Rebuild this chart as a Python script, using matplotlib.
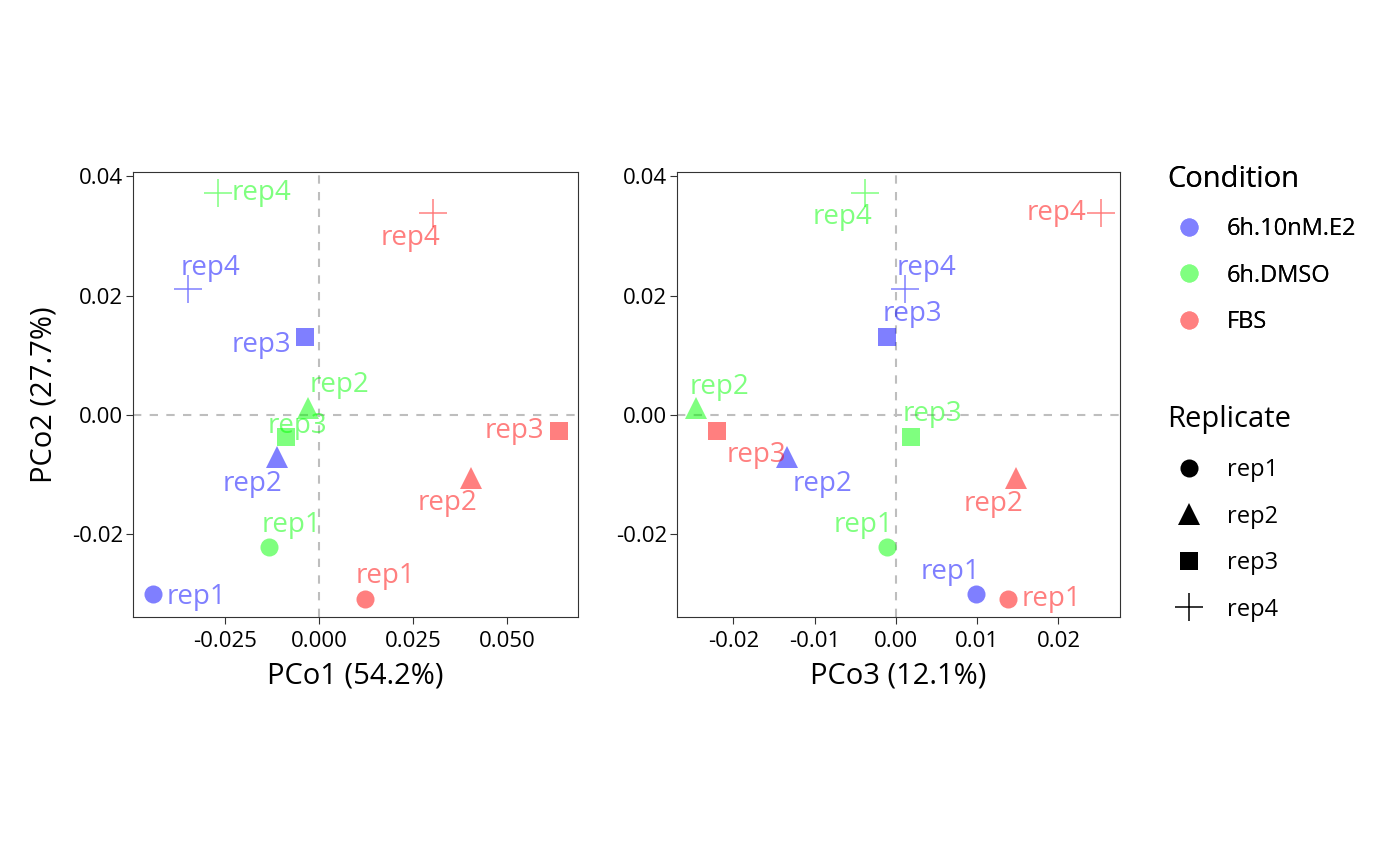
import numpy as np
import matplotlib.pyplot as plt
from matplotlib.lines import Line2D

plt.rcParams['font.family'] = ['Open Sans', 'DejaVu Sans']

# Datos de las coordenadas principales
conditions = ['6h.10nM.E2', '6h.DMSO', 'FBS']
replicates = ['rep1', 'rep2', 'rep3', 'rep4']
cond_colors = {'6h.10nM.E2': '#0000FF', '6h.DMSO': '#00FF00', 'FBS': '#FF0000'}
legend_colors = {'6h.10nM.E2': '#8080FF', '6h.DMSO': '#80FF80', 'FBS': '#FF8080'}

sample_cond = ['6h.10nM.E2'] * 4 + ['6h.DMSO'] * 4 + ['FBS'] * 4
sample_rep = replicates * 3

pco1 = [-0.0442, -0.0112, -0.0037, -0.0348,
        -0.0133, -0.0029, -0.0088, -0.0269,
        0.0122, 0.0404, 0.0638, 0.0303]
pco2 = [-0.0300, -0.0070, 0.0131, 0.0211,
        -0.0221, 0.0012, -0.0037, 0.0372,
        -0.0308, -0.0106, -0.0027, 0.0339]
pco3 = [0.0098, -0.0134, -0.0011, 0.0011,
        -0.0011, -0.0246, 0.0018, -0.0038,
        0.0138, 0.0148, -0.0220, 0.0252]

# desplazamientos de etiquetas (pixeles), como ggrepel
off_left = [(44, -3), (-24, -27), (-44, -8), (22, 21),
            (22, 22), (31, 23), (12, 11), (44, 0),
            (21, 23), (-23, -25), (-44, 0), (-22, -25)]
off_right = [(-25, 22), (35, -27), (25, 23), (22, 21),
             (-24, 22), (23, 21), (22, 23), (-23, -24),
             (43, 0), (-23, -26), (39, -24), (-44, 0)]

markers = {'rep1': 'o', 'rep2': '^', 'rep3': 's', 'rep4': '+'}
msize = {'rep1': 13, 'rep2': 16.5, 'rep3': 13.3, 'rep4': 20.5}


def dibujar(ax, x, y, offs, xlabel, ylabel=None):
    ax.axhline(0, color='#BEBEBE', ls=(0, (4, 4)), lw=1.5, zorder=1)
    ax.axvline(0, color='#BEBEBE', ls=(0, (4, 4)), lw=1.5, zorder=1)
    for i in range(len(x)):
        c = cond_colors[sample_cond[i]]
        r = sample_rep[i]
        ax.plot(x[i], y[i], marker=markers[r], ms=msize[r], color=c, alpha=0.5,
                mew=1.1 if r == 'rep4' else 0, ls='none', zorder=3)
        ax.annotate(r, (x[i], y[i]), xytext=offs[i], textcoords='offset pixels',
                    ha='center', va='center', color=c, alpha=0.5, fontsize=20,
                    zorder=4)
    ax.set_xlabel(xlabel, fontsize=21, labelpad=7)
    if ylabel:
        ax.set_ylabel(ylabel, fontsize=21, labelpad=10)
    ax.set_ylim(-0.03386, 0.04074)
    ax.set_yticks([-0.02, 0.0, 0.02, 0.04])
    ax.set_yticklabels(['-0.02', '0.00', '0.02', '0.04'])
    ax.tick_params(labelsize=16, length=5, color='#333333')
    ax.tick_params(axis='x', pad=5)
    ax.tick_params(axis='y', pad=2)
    for s in ax.spines.values():
        s.set_color('#333333')
        s.set_linewidth(0.8)


fig = plt.figure(figsize=(14, 8.66), dpi=100)
ax1 = fig.add_axes([133 / 1400, 249 / 866, 445 / 1400, 445 / 866])
ax2 = fig.add_axes([677 / 1400, 249 / 866, 443 / 1400, 445 / 866])

dibujar(ax1, pco1, pco2, off_left, 'PCo1 (54.2%)', 'PCo2 (27.7%)')
ax1.set_xlim(-0.04947, 0.06888)
ax1.set_xticks([-0.025, 0.0, 0.025, 0.05])
ax1.set_xticklabels(['-0.025', '0.000', '0.025', '0.050'])

dibujar(ax2, pco3, pco2, off_right, 'PCo3 (12.1%)')
ax2.set_xlim(-0.02695, 0.02757)
ax2.set_xticks([-0.02, -0.01, 0.0, 0.01, 0.02])
ax2.set_xticklabels(['-0.02', '-0.01', '0.00', '0.01', '0.02'])

# leyendas
h_cond = [Line2D([], [], marker='o', ls='none', ms=13, mew=0,
                 color=legend_colors[c]) for c in conditions]
h_rep = [Line2D([], [], marker=markers[r], ls='none', ms=msize[r],
                mew=1.1 if r == 'rep4' else 0, color='black') for r in replicates]

estilo = dict(loc='upper left', frameon=False, alignment='left', fontsize=17,
              title_fontsize=21, labelspacing=0.95, handletextpad=0.68,
              borderpad=0, borderaxespad=0, handlelength=1.86)
leg1 = fig.legend(h_cond, conditions, bbox_to_anchor=(1167 / 1400, 1 - 165 / 866),
                  title='Condition', **estilo)
leg2 = fig.legend(h_rep, replicates, bbox_to_anchor=(1167 / 1400, 1 - 405 / 866),
                  title='Replicate', **estilo)
leg1._legend_box.sep = 16.7
leg2._legend_box.sep = 17.5
fig.add_artist(leg1)

fig.savefig('out.png', dpi=100)
